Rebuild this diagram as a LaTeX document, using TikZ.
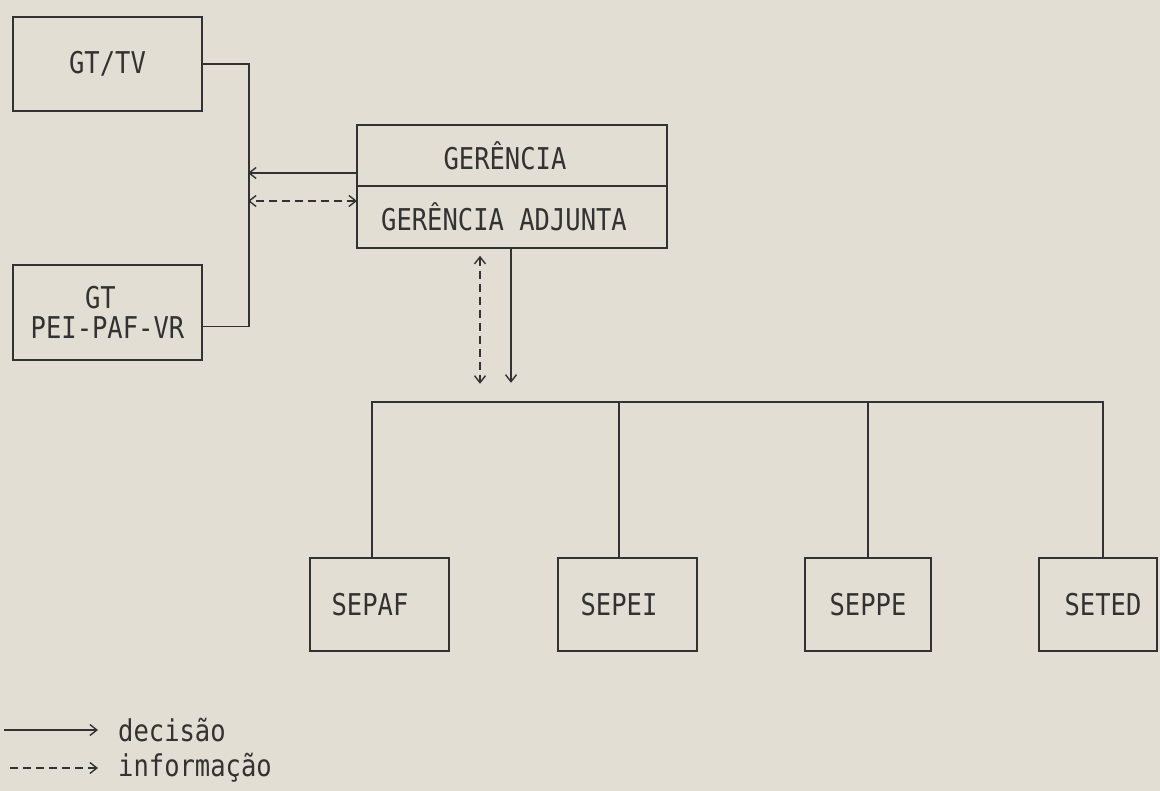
\documentclass[tikz,border=0pt]{standalone}
\usepackage{fontspec}
\setmainfont{DejaVu Sans Mono}[FakeStretch=0.85]
\usepackage{xcolor}
\usetikzlibrary{arrows.meta}
\definecolor{paper}{RGB}{227,222,212}
\definecolor{ink}{RGB}{50,50,50}
\tikzset{
  box/.style={rectangle, draw=ink, line width=1.6pt, text=ink, align=center,
              font=\fontsize{30}{30}\selectfont, inner sep=0pt},
  link/.style={draw=ink, line width=1.6pt},
  dec/.style={link, -{Straight Barb[length=7pt, width=11pt, line width=1.4pt]}},
  inf/.style={link, dash pattern=on 8pt off 5pt,
              {Straight Barb[length=7pt, width=11pt, line width=1.4pt]}-{Straight Barb[length=7pt, width=11pt, line width=1.4pt]}},
  infone/.style={link, dash pattern=on 8pt off 5pt, -{Straight Barb[length=7pt, width=11pt, line width=1.4pt]}},
  leg/.style={text=ink, font=\fontsize{30}{30}\selectfont, inner xsep=20pt, inner ysep=0pt, anchor=west},
}
\begin{document}
\begin{tikzpicture}[x=1pt, y=-1pt]
  \fill[paper] (0,0) rectangle (1160,791);
  \useasboundingbox (0,0) rectangle (1160,791);
  % grupos de trabalho
  \node[box, minimum width=189pt, minimum height=94pt] (gttv)  at (107.5,64)  {GT/TV};
  \node[box, minimum width=189pt, minimum height=95pt] (gtpei) at (107.5,312.5) {\hspace*{-14pt}GT\\PEI-PAF-VR};
  % gerencia
  \node[box, minimum width=310pt, minimum height=61pt] (ger) at (512,155.5) {\hspace*{-14pt}GERÊNCIA};
  \node[box, minimum width=310pt, minimum height=62pt] (adj) at (512,217)   {\hspace*{-16pt}GERÊNCIA ADJUNTA};
  % setores
  \node[box, minimum width=139pt, minimum height=93pt] (sepaf) at (379.5,604.5) {\hspace*{-19pt}SEPAF};
  \node[box, minimum width=139pt, minimum height=93pt] (sepei) at (627.5,604.5) {\hspace*{-17pt}SEPEI};
  \node[box, minimum width=126pt, minimum height=93pt] (seppe) at (868,604.5)   {SEPPE};
  \node[box, minimum width=118pt, minimum height=93pt] (seted) at (1098,604.5)  {\hspace*{10pt}SETED};
  % ligacoes
  \coordinate (bar) at (248,173);
  \coordinate (infpt) at (357,201);
  \draw[link] (gttv.east) -- ++(46,0) |- ([yshift=-14pt]gtpei.east);
  \draw[dec] ([yshift=-17.5pt]ger.west) -- (bar);
  \draw[inf] (infpt) -- (infpt -| bar);
  \draw[inf] ([xshift=-32pt, yshift=-7pt]adj.south) -- ++(0,128);
  \draw[dec] ([xshift=-1pt]adj.south) -- ++(0,134);
  \draw[link] ([xshift=-7.5pt]sepaf.north) -- ++(0,-155) -| ([xshift=5pt]seted.north);
  \draw[link] ([xshift=-8.5pt]sepei.north) -- ++(0,-155);
  \draw[link] (seppe.north) -- ++(0,-155);
  % legenda
  \coordinate (decstart) at (4,730);
  \coordinate (infstart) at (10,768);
  \node[leg] (decl) at (98,730) {decisão};
  \node[leg] (infl) at (98,768) {informação};
  \draw[dec] (decstart) -- (decl.west);
  \draw[infone] (infstart) -- (infl.west);
\end{tikzpicture}
\end{document}
